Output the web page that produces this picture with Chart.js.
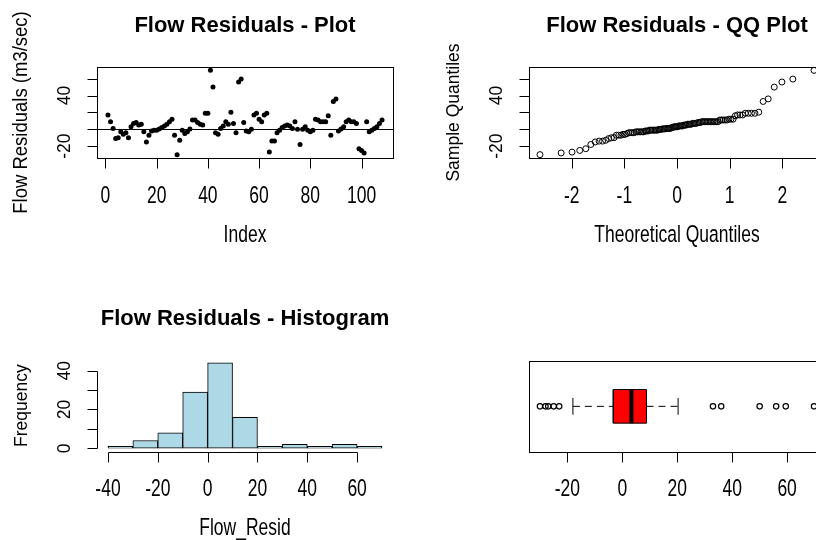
<!DOCTYPE html>
<html>
<head>
<meta charset="utf-8">
<script src="https://cdn.jsdelivr.net/npm/chart.js@4.4.1/dist/chart.umd.min.js"></script>
<style>
  html, body { margin: 0; padding: 0; background: #fff; }
  body { width: 816px; height: 540px; overflow: hidden; position: relative; }
  canvas { position: absolute; }
</style>
</head>
<body>
<canvas id="cPlot" width="408" height="270" style="left:0;top:0"></canvas>
<canvas id="cQQ" width="432" height="270" style="left:408px;top:0"></canvas>
<canvas id="cHist" width="408" height="270" style="left:0;top:270px"></canvas>
<canvas id="cBox" width="432" height="270" style="left:408px;top:270px"></canvas>
<script>
// flow residuals (m3/sec), in index order
const residuals = [
  17, 9, 1, -11, -10, -3, -6, -4, -10, 3,
  7, 8, 5, 6, -3, -15, -7, -2, -1, -1,
  0.5, 2, 4, 6, 9, 12, -7, -30, -13, -1,
  -5, -3, 0.5, 11, 11, 8, 6, 5, 19, 19,
  69.8, 50, -4, -6, 1, 4, 9, 6, 20.3, 7,
  -4, 56, 59.5, 8, -2, -3, 0, 17, 19, 12,
  9, 17, 19, -27, -14, -14, -4, -1, 2, 4,
  5, 4, 1, 9, 0, -18, 0, 3, -1, -3,
  -1, 12, 11, 9, 9, 9, 16, -7, 33, 36,
  -2, 0.5, 3, 9, 11, 9, 9, 7, -23, -25,
  -28, 9, -3, -1, 1, 3, 7, 11
];

// histogram
const histBreaks = [-40, -30, -20, -10, 0, 10, 20, 30, 40, 50, 60, 70];
const histCounts = [1, 4, 8, 29, 44, 16, 1, 2, 1, 2, 1];

// boxplot: lower whisker, Q1, median, Q3, upper whisker
const boxStats = [-18, -3.3, 3.3, 8.8, 20.3];
const boxOutliers = [-30, -28, -27, -25, -23, 33, 36, 50, 56, 59.5, 69.8];

// ticks
const plotXTicks = [0, 20, 40, 60, 80, 100];
const residTicks = [-20, 0, 20, 40, 60];
const residLabels = ['-20', '', '', '40', ''];
const qqXTicks = [-2, -1, 0, 1, 2];
const histXTicks = [-40, -20, 0, 20, 40, 60];
const histYTicks = [0, 10, 20, 30, 40];
const histYLabels = ['0', '', '20', '', '40'];
const boxXTicks = [-20, 0, 20, 40, 60];

const INK = '#000';
const FONT = '"Liberation Sans", Arial, Helvetica, sans-serif';
const TICK = 10;

// R pads the data range by 4% on each side
const rRange = (lo, hi) => [lo - 0.04 * (hi - lo), hi + 0.04 * (hi - lo)];

// inverse normal cdf (Acklam), for the theoretical quantiles of qqnorm
function qnorm(p) {
  const a = [-3.969683028665376e+01, 2.209460984245205e+02, -2.759285104469687e+02, 1.383577518672690e+02, -3.066479806614716e+01, 2.506628277459239e+00];
  const b = [-5.447609879822406e+01, 1.615858368580409e+02, -1.556989798598866e+02, 6.680131188771972e+01, -1.328068155288572e+01];
  const c = [-7.784894002430293e-03, -3.223964580411365e-01, -2.400758277161838e+00, -2.549732539343734e+00, 4.374664141464968e+00, 2.938163982698783e+00];
  const d = [7.784695709041462e-03, 3.224671290700398e-01, 2.445134137142996e+00, 3.754408661907416e+00];
  const pl = 0.02425;
  if (p < pl) {
    const q = Math.sqrt(-2 * Math.log(p));
    return (((((c[0]*q+c[1])*q+c[2])*q+c[3])*q+c[4])*q+c[5]) / ((((d[0]*q+d[1])*q+d[2])*q+d[3])*q+1);
  }
  if (p > 1 - pl) {
    const q = Math.sqrt(-2 * Math.log(1 - p));
    return -(((((c[0]*q+c[1])*q+c[2])*q+c[3])*q+c[4])*q+c[5]) / ((((d[0]*q+d[1])*q+d[2])*q+d[3])*q+1);
  }
  const q = p - 0.5, r = q * q;
  return (((((a[0]*r+a[1])*r+a[2])*r+a[3])*r+a[4])*r+a[5])*q / (((((b[0]*r+b[1])*r+b[2])*r+b[3])*r+b[4])*r+1);
}

function rText(ctx, str, x, y, opt) {
  ctx.save();
  ctx.translate(x, y);
  if (opt.rot) ctx.rotate(-Math.PI / 2);
  ctx.scale(1, opt.stretch || 1);
  ctx.font = (opt.bold ? 'bold ' : '') + opt.size + 'px ' + FONT;
  ctx.textAlign = 'center';
  ctx.textBaseline = opt.baseline || 'middle';
  ctx.fillStyle = INK;
  ctx.fillText(str, 0, 0);
  ctx.restore();
}

// draws the base-graphics look: box, axes with outside ticks, titles
const rStyle = {
  id: 'rStyle',
  afterDatasetsDraw(chart, args, o) {
    const ctx = chart.ctx, a = chart.chartArea;
    const xs = chart.scales.x, ys = chart.scales.y;
    const px = v => Math.round(xs.getPixelForValue(v)) + 0.5;
    const py = v => Math.round(ys.getPixelForValue(v)) + 0.5;
    ctx.save();
    ctx.strokeStyle = INK;
    ctx.lineWidth = 1;

    if (o.hline !== undefined) {
      ctx.beginPath();
      ctx.moveTo(a.left, py(o.hline));
      ctx.lineTo(a.right, py(o.hline));
      ctx.stroke();
    }
    if (o.box) {
      ctx.strokeRect(Math.round(a.left) + 0.5, Math.round(a.top) + 0.5,
        Math.round(a.right - a.left), Math.round(a.bottom - a.top));
    }
    if (o.xTicks) {
      const yb = Math.round(a.bottom) + 0.5;
      ctx.beginPath();
      ctx.moveTo(px(o.xTicks[0]), yb);
      ctx.lineTo(px(o.xTicks[o.xTicks.length - 1]), yb);
      o.xTicks.forEach(t => { ctx.moveTo(px(t), yb); ctx.lineTo(px(t), yb + TICK); });
      ctx.stroke();
      o.xTicks.forEach((t, i) => {
        const lab = o.xLabels ? o.xLabels[i] : String(t);
        if (lab) rText(ctx, lab, xs.getPixelForValue(t), a.bottom + 38, {size: 17.5, stretch: 1.4});
      });
    }
    if (o.yTicks) {
      const xl = Math.round(a.left) + 0.5;
      ctx.beginPath();
      ctx.moveTo(xl, py(o.yTicks[0]));
      ctx.lineTo(xl, py(o.yTicks[o.yTicks.length - 1]));
      o.yTicks.forEach(t => { ctx.moveTo(xl, py(t)); ctx.lineTo(xl - TICK, py(t)); });
      ctx.stroke();
      o.yTicks.forEach((t, i) => {
        const lab = o.yLabels ? o.yLabels[i] : String(t);
        if (lab) rText(ctx, lab, a.left - 32, ys.getPixelForValue(t), {size: 17.5, rot: true, stretch: 1.05});
      });
    }
    const cx = (a.left + a.right) / 2, cy = (a.top + a.bottom) / 2;
    if (o.title) rText(ctx, o.title, cx, a.top - 35, {size: 22, bold: true, baseline: 'alphabetic'});
    if (o.xTitle) rText(ctx, o.xTitle, cx, a.bottom + 77, {size: 17.5, stretch: 1.4});
    if (o.yTitle) rText(ctx, o.yTitle, a.left - 75, cy, {size: o.yTitleSize || 17.5, rot: true, stretch: 1.05});
    ctx.restore();
  }
};

const baseOptions = (padding, xr, yr, rOpts) => ({
  responsive: false,
  animation: false,
  layout: { padding },
  plugins: { legend: { display: false }, tooltip: { enabled: false }, title: { display: false }, rStyle: rOpts },
  scales: {
    x: { type: 'linear', min: xr[0], max: xr[1], display: false, offset: false },
    y: { type: 'linear', min: yr[0], max: yr[1], display: false, offset: false }
  }
});

const residRange = rRange(Math.min(...residuals), Math.max(...residuals));

// 1. index plot
new Chart(document.getElementById('cPlot'), {
  type: 'scatter',
  data: {
    datasets: [{
      data: residuals.map((v, i) => ({ x: i + 1, y: v })),
      pointRadius: 2.5,
      pointBackgroundColor: INK,
      pointBorderWidth: 0
    }]
  },
  options: baseOptions({ left: 97, top: 67, right: 15, bottom: 112 },
    rRange(1, residuals.length), residRange,
    { box: true, hline: 0, xTicks: plotXTicks, yTicks: residTicks, yLabels: residLabels,
      title: 'Flow Residuals - Plot', xTitle: 'Index', yTitle: 'Flow Residuals (m3/sec)', yTitleSize: 18.5 }),
  plugins: [rStyle]
});

// 2. normal QQ plot
const sorted = residuals.slice().sort((p, q) => p - q);
const n = sorted.length;
const theo = sorted.map((v, i) => qnorm((i + 1 - 0.5) / n));
new Chart(document.getElementById('cQQ'), {
  type: 'scatter',
  data: {
    datasets: [{
      data: sorted.map((v, i) => ({ x: theo[i], y: v })),
      pointRadius: 3,
      pointBackgroundColor: 'rgba(0,0,0,0)',
      pointBorderColor: INK,
      pointBorderWidth: 1
    }]
  },
  options: baseOptions({ left: 121, top: 67, right: 15, bottom: 112 },
    rRange(theo[0], theo[n - 1]), residRange,
    { box: true, xTicks: qqXTicks, yTicks: residTicks, yLabels: residLabels,
      title: 'Flow Residuals - QQ Plot', xTitle: 'Theoretical Quantiles', yTitle: 'Sample Quantiles' }),
  plugins: [rStyle]
});

// 3. histogram
new Chart(document.getElementById('cHist'), {
  type: 'bar',
  data: {
    datasets: [{
      data: histCounts.map((c, i) => ({ x: (histBreaks[i] + histBreaks[i + 1]) / 2, y: c })),
      backgroundColor: '#ADD8E6',
      borderColor: INK,
      borderWidth: 1,
      borderSkipped: false,
      barPercentage: 1,
      categoryPercentage: 1
    }]
  },
  options: baseOptions({ left: 97, top: 89.5, right: 15, bottom: 88.3 },
    rRange(histBreaks[0], histBreaks[histBreaks.length - 1]), rRange(0, Math.max(...histCounts)),
    { xTicks: histXTicks, yTicks: histYTicks, yLabels: histYLabels,
      title: 'Flow Residuals - Histogram', xTitle: 'Flow_Resid', yTitle: 'Frequency' }),
  plugins: [rStyle]
});

// 4. horizontal boxplot (datasets are painted last-to-first, so the red fill goes at the end)
const [wLo, q1, med, q3, wHi] = boxStats;
const bw = 0.2, sw = 0.1;
const seg = (pts, extra) => Object.assign({
  type: 'line', data: pts, borderColor: INK, borderWidth: 1, pointRadius: 0, fill: false, tension: 0
}, extra || {});
const allBox = boxStats.concat(boxOutliers);
new Chart(document.getElementById('cBox'), {
  type: 'scatter',
  data: {
    datasets: [
      {
        data: boxOutliers.map(v => ({ x: v, y: 1 })),
        pointRadius: 2.7,
        pointBackgroundColor: 'rgba(0,0,0,0)',
        pointBorderColor: INK,
        pointBorderWidth: 1.2
      },
      seg([{ x: med, y: 1 - bw }, { x: med, y: 1 + bw }], { borderWidth: 4 }),
      seg([{ x: q1, y: 1 - bw }, { x: q3, y: 1 - bw }, { x: q3, y: 1 + bw }, { x: q1, y: 1 + bw }, { x: q1, y: 1 - bw }]),
      seg([{ x: wLo, y: 1 }, { x: q1, y: 1 }], { borderDash: [7, 5] }),
      seg([{ x: q3, y: 1 }, { x: wHi, y: 1 }], { borderDash: [7, 5] }),
      seg([{ x: wLo, y: 1 - sw }, { x: wLo, y: 1 + sw }]),
      seg([{ x: wHi, y: 1 - sw }, { x: wHi, y: 1 + sw }]),
      seg([{ x: q1, y: 1 + bw }, { x: q3, y: 1 + bw }], { borderWidth: 0, fill: '+1', backgroundColor: '#FF0000' }),
      seg([{ x: q1, y: 1 - bw }, { x: q3, y: 1 - bw }], { borderWidth: 0 })
    ]
  },
  options: baseOptions({ left: 121, top: 91, right: 15, bottom: 88.3 },
    rRange(Math.min(...allBox), Math.max(...allBox)), rRange(0.5, 1.5),
    { box: true, xTicks: boxXTicks }),
  plugins: [rStyle]
});
</script>
</body>
</html>
